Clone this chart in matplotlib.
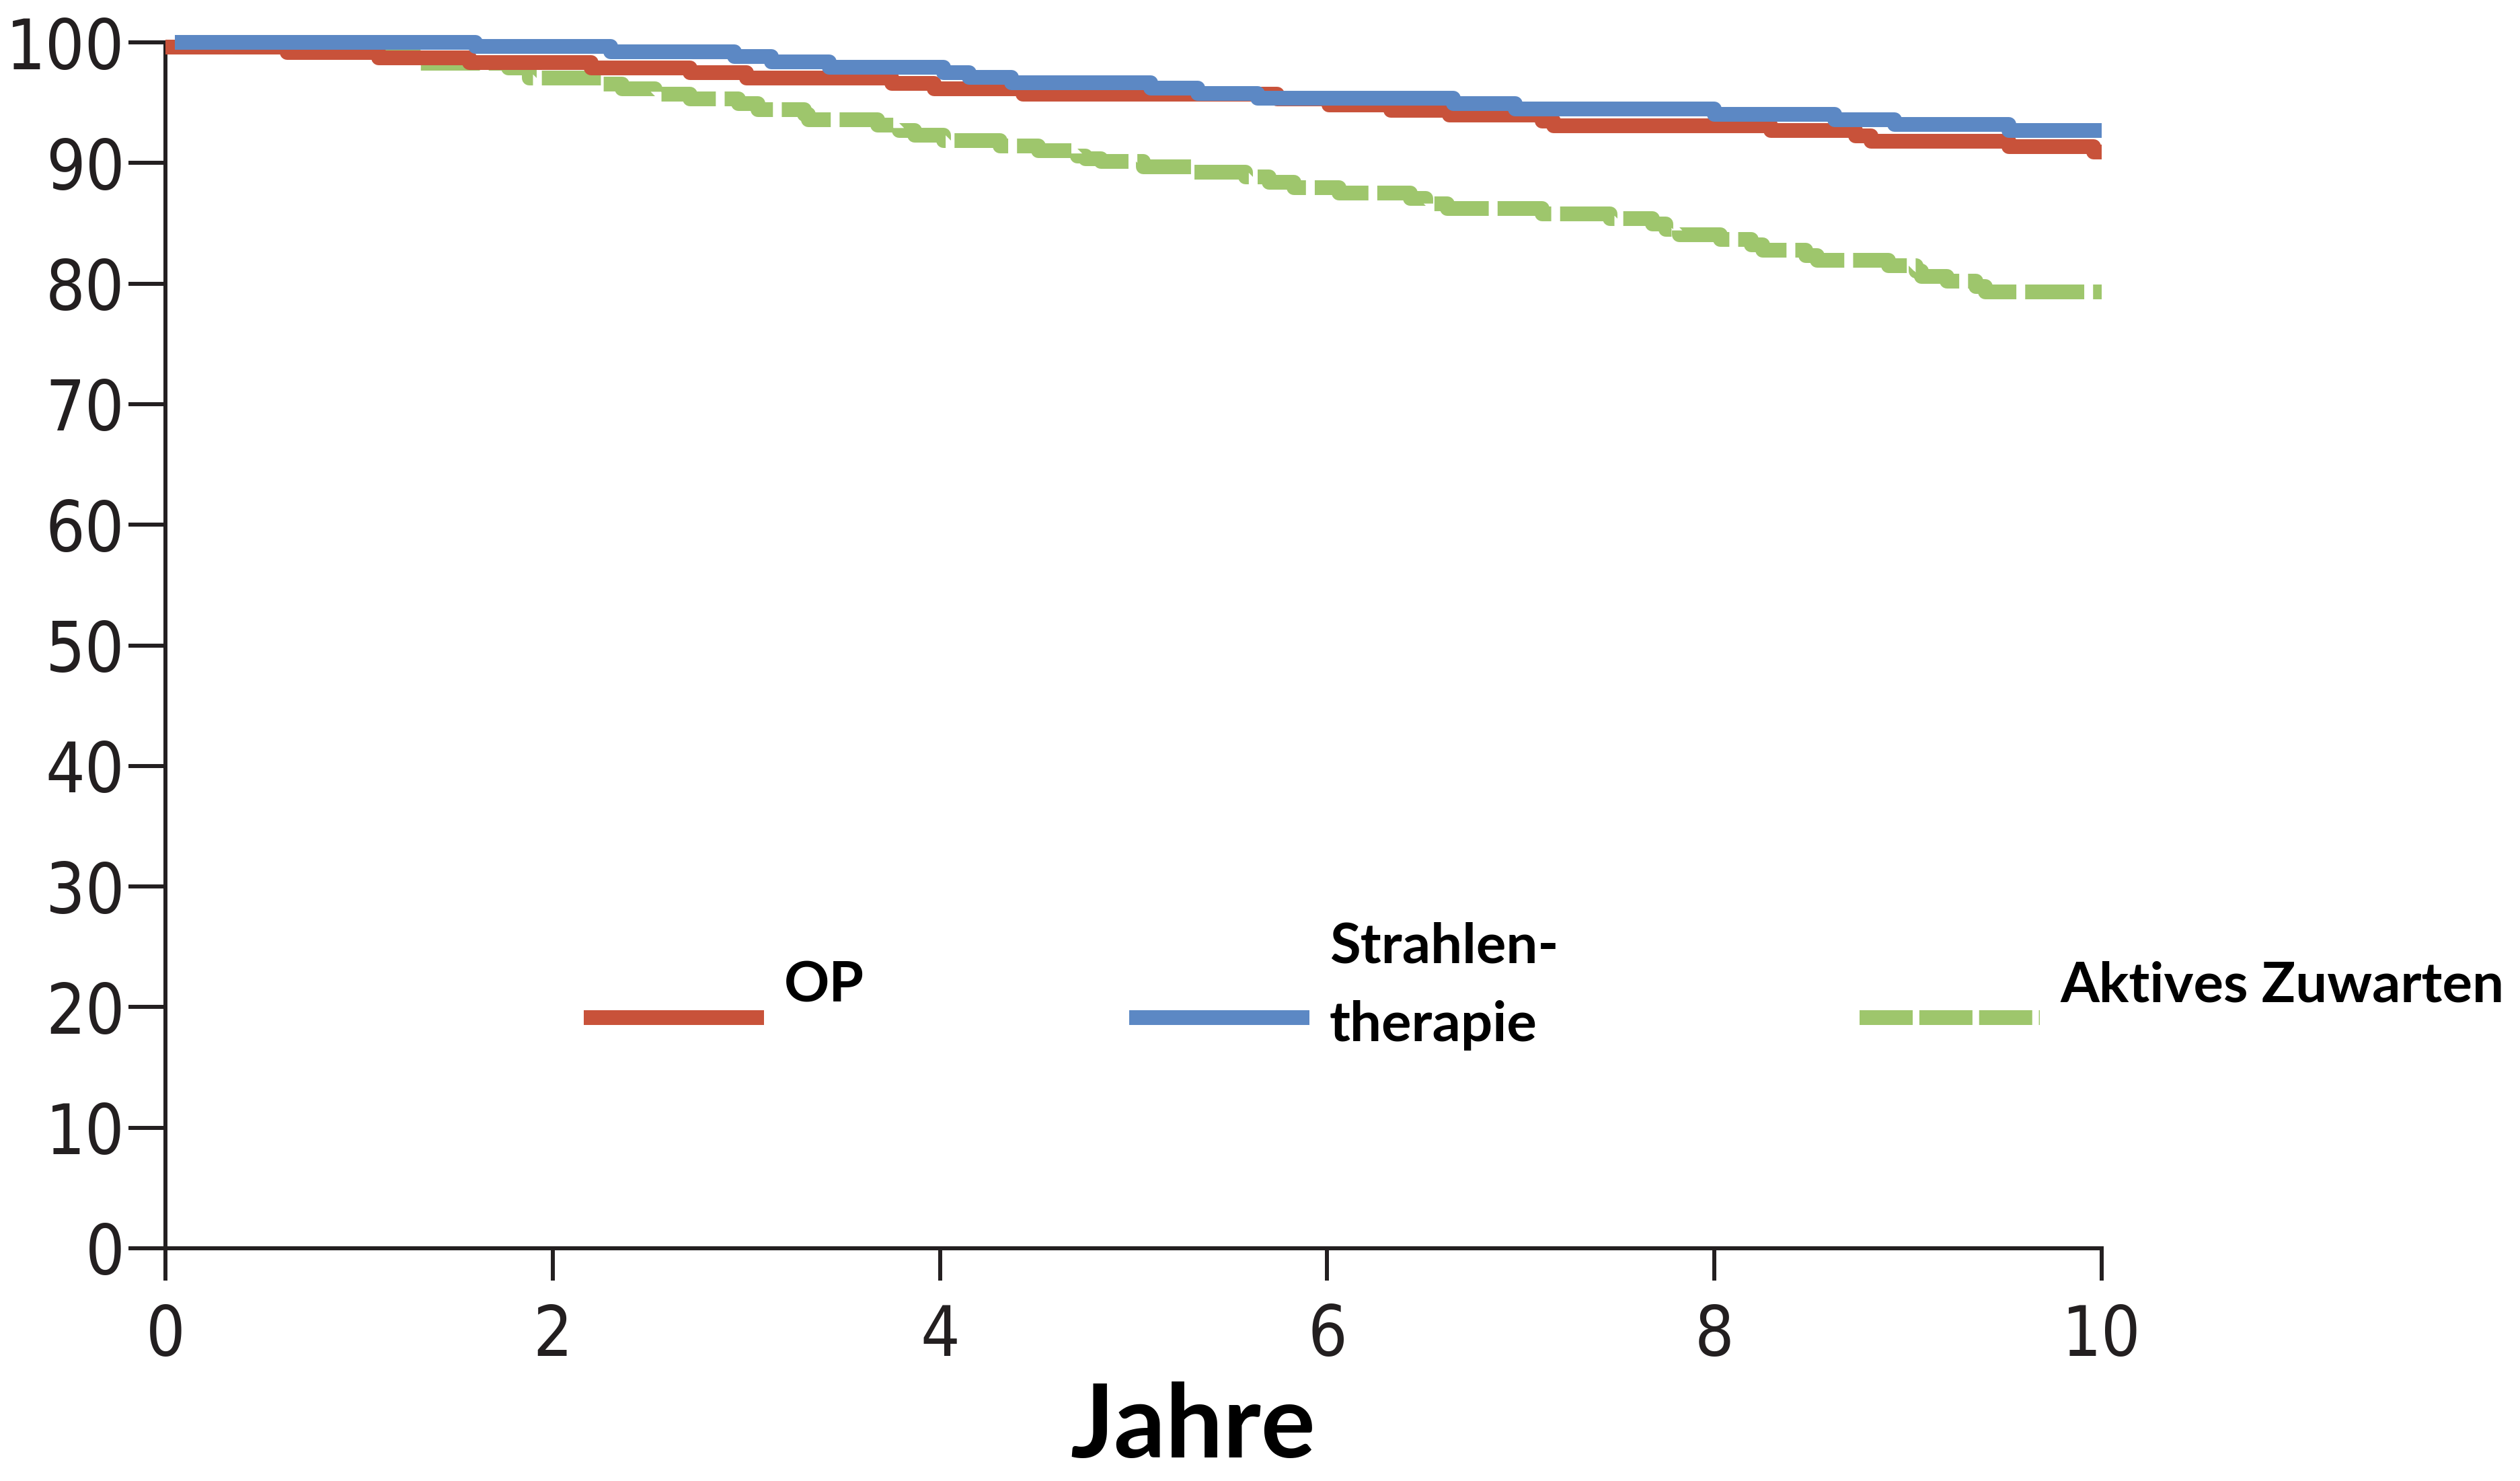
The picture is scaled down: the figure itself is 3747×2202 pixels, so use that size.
import matplotlib
matplotlib.use("Agg")
import matplotlib.pyplot as plt
from matplotlib import font_manager
from matplotlib.lines import Line2D

# Kaplan-Meier Stufen: (Zeitpunkt in Jahren, Überleben in % ab diesem Zeitpunkt)
op_t = [0.0, 0.63, 1.10, 1.57, 2.20, 2.71, 3.00, 3.75, 3.97, 4.43, 5.74, 6.01,
        6.33, 6.63, 7.11, 7.17, 8.29, 8.73, 8.81, 9.52, 9.96, 10.0]
op_y = [99.6, 99.16, 98.73, 98.32, 97.9, 97.49, 97.02, 96.59, 96.15, 95.72, 95.3, 94.82,
        94.38, 93.95, 93.5, 93.11, 92.68, 92.27, 91.8, 91.34, 90.93, 90.93]

rt_t = [0.05, 1.60, 2.30, 2.94, 3.13, 3.43, 4.02, 4.15, 4.37, 5.09, 5.33, 5.64,
        6.65, 6.97, 8.00, 8.62, 8.93, 9.52, 10.0]
rt_y = [100.0, 99.65, 99.24, 98.83, 98.38, 97.93, 97.5, 97.08, 96.65, 96.22, 95.77, 95.36,
        94.92, 94.49, 94.04, 93.61, 93.17, 92.72, 92.72]

az_t = [0.0, 0.70, 1.10, 1.28, 1.77, 1.88, 2.25, 2.36, 2.53, 2.71, 2.96, 3.06, 3.30, 3.32,
        3.68, 3.79, 3.87, 4.02, 4.31, 4.51, 4.71, 4.75, 4.83, 5.05, 5.30, 5.58, 5.70, 5.83,
        6.06, 6.43, 6.51, 6.62, 7.11, 7.46, 7.68, 7.75, 7.82, 8.03, 8.19, 8.25, 8.47, 8.53,
        8.90, 9.04, 9.07, 9.20, 9.35, 9.40, 10.0]
az_y = [99.6, 99.5, 99.16, 98.27, 97.86, 97.02, 96.55, 96.15, 95.72, 95.29, 94.9, 94.45, 94.02, 93.6,
        93.15, 92.72, 92.29, 91.83, 91.41, 91.0, 90.6, 90.35, 90.13, 89.7, 89.26, 88.83, 88.4, 87.97,
        87.5, 87.07, 86.62, 86.21, 85.8, 85.37, 84.95, 84.5, 84.07, 83.65, 83.2, 82.77, 82.34, 81.91,
        81.47, 81.04, 80.61, 80.18, 79.75, 79.33, 79.33]

labels = ["OP", "Strahlen-\ntherapie", "Aktives Zuwarten"]
colors = ["#c8523a", "#5c88c4", "#9ec66c"]

x_ticks = [0, 2, 4, 6, 8, 10]
y_ticks = [0, 10, 20, 30, 40, 50, 60, 70, 80, 90, 100]

# schmale Schrift für die Achsenbeschriftung, falls vorhanden
names = {f.name for f in font_manager.fontManager.ttflist}
if "Liberation Sans Narrow" in names:
    tick_font = dict(family="Liberation Sans Narrow")
else:
    tick_font = dict(family="DejaVu Sans", stretch="condensed")

W, H = 3748, 2202
fig = plt.figure(figsize=(W / 100, H / 100), dpi=100)
ax = fig.add_axes([246 / W, 1 - 1856 / H, (3125 - 246) / W, (1856 - 63) / H])

lw = 15.8
ax.step(az_t, az_y, where="post", color=colors[2], lw=lw, dashes=(4.0, 0.6),
        solid_capstyle="butt", dash_capstyle="butt", clip_on=False, zorder=2)
ax.step(op_t, op_y, where="post", color=colors[0], lw=lw,
        solid_capstyle="butt", clip_on=False, zorder=3)
ax.step(rt_t, rt_y, where="post", color=colors[1], lw=lw,
        solid_capstyle="butt", clip_on=False, zorder=4)

ax.set_xlim(0, 10)
ax.set_ylim(0, 100)
ax.set_xticks(x_ticks)
ax.set_yticks(y_ticks)
ax.set_xticklabels([str(v) for v in x_ticks], **tick_font)
ax.set_yticklabels([str(v) for v in y_ticks], **tick_font)

dark = "#231f20"
for side in ["top", "right"]:
    ax.spines[side].set_visible(False)
for side in ["left", "bottom"]:
    ax.spines[side].set_linewidth(4.3)
    ax.spines[side].set_color(dark)
ax.tick_params(axis="y", length=39.6, width=4.3, pad=4, labelsize=74,
               color=dark, labelcolor=dark)
ax.tick_params(axis="x", length=34.5, width=4.3, pad=24, labelsize=74,
               color=dark, labelcolor=dark)

# Legende von Hand, wie im Original
handle_x = [868, 1679, 2765]
handle_len = 268
line_y = 1513
base_y = 1490
line_gap = 116
styles = [dict(), dict(), dict(dashes=(3.6, 0.45))]
for lab, col, hx, st in zip(labels, colors, handle_x, styles):
    fig.add_artist(Line2D([hx / W, (hx + handle_len) / W], [1 - line_y / H] * 2,
                          color=col, lw=lw, solid_capstyle="butt",
                          dash_capstyle="butt", **st))
    parts = lab.split("\n")
    for i, part in enumerate(parts):
        by = base_y + (i - (len(parts) - 1) / 2) * line_gap
        fig.text((hx + handle_len + 30) / W, 1 - by / H, part,
                 family="Lato", weight="bold", fontsize=60,
                 ha="left", va="baseline", color="black")

fig.text(0.4731, 0.016, "Jahre", family="Lato", weight="bold", fontsize=109,
         ha="center", va="baseline", color="black")

fig.savefig("out.png", dpi=100)
